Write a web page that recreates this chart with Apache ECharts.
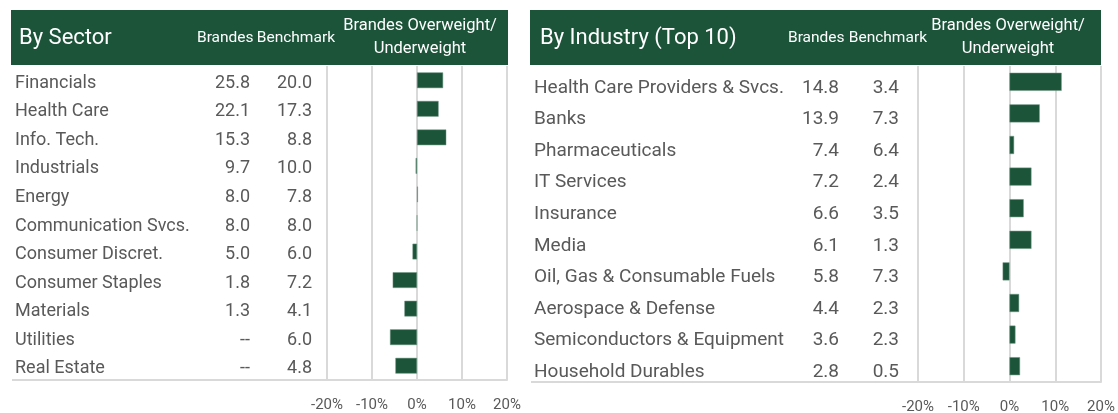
<!DOCTYPE html>
<html>
<head>
<meta charset="utf-8">
<script src="https://cdn.jsdelivr.net/npm/echarts@6/dist/echarts.min.js"></script>
<style>
  html, body { margin: 0; padding: 0; background: #fff; }
  #chart { width: 1118px; height: 413px; }
</style>
</head>
<body>
<div id="chart"></div>
<script>
var sectors = ['Financials', 'Health Care', 'Info. Tech.', 'Industrials', 'Energy', 'Communication Svcs.',
  'Consumer Discret.', 'Consumer Staples', 'Materials', 'Utilities', 'Real Estate'];
var sectorBrandes = [25.8, 22.1, 15.3, 9.7, 8.0, 8.0, 5.0, 1.8, 1.3, null, null];
var sectorBench = [20.0, 17.3, 8.8, 10.0, 7.8, 8.0, 6.0, 7.2, 4.1, 6.0, 4.8];
var sectorActive = [5.8, 4.8, 6.5, -0.3, 0.2, 0.0, -1.0, -5.4, -2.8, -6.0, -4.8];

var industries = ['Health Care Providers & Svcs.', 'Banks', 'Pharmaceuticals', 'IT Services', 'Insurance', 'Media',
  'Oil, Gas & Consumable Fuels', 'Aerospace & Defense', 'Semiconductors & Equipment', 'Household Durables'];
var indBrandes = [14.8, 13.9, 7.4, 7.2, 6.6, 6.1, 5.8, 4.4, 3.6, 2.8];
var indBench = [3.4, 7.3, 6.4, 2.4, 3.5, 1.3, 7.3, 2.3, 2.3, 0.5];
var indActive = [11.4, 6.6, 1.0, 4.8, 3.1, 4.8, -1.5, 2.1, 1.3, 2.3];

var xTicks = [-20, -10, 0, 10, 20];

var GREEN = '#1b5439';
var GREY = '#595959';
var LINE = '#d9d9d9';
var FONT = 'Roboto';

function fmt(v) { return v == null ? '--' : v.toFixed(1); }

var myChart = echarts.init(document.getElementById('chart'));

// one category axis per table column, all on the left of the bar grid
// (verticalAlign top + small lineHeight nudges the text a few px below the bar centre)
function colAxis(grid, data, align, margin, size, lh) {
  return {
    type: 'category', gridIndex: grid, position: 'left', offset: 0, inverse: true, data: data,
    axisLine: { show: false }, axisTick: { show: false }, splitLine: { show: false },
    axisLabel: {
      align: align, margin: margin, color: GREY, fontFamily: FONT, fontSize: size,
      verticalAlign: 'top', lineHeight: lh
    }
  };
}

function valAxis(grid) {
  return {
    type: 'value', gridIndex: grid, min: xTicks[0], max: xTicks[xTicks.length - 1], interval: 10,
    axisLine: { show: true, onZero: false, lineStyle: { color: LINE, width: 2 } },
    axisTick: { show: false },
    splitLine: { show: true, lineStyle: { color: LINE, width: 2 } },
    axisLabel: { formatter: '{value}%', color: GREY, fontFamily: FONT, fontSize: 15, margin: 18 }
  };
}

function headerText(x, y, txt, size, align) {
  return {
    type: 'text', x: x, y: y,
    style: { text: txt, fill: '#fff', fontFamily: FONT, fontSize: size, align: align || 'left', verticalAlign: 'middle' }
  };
}

var option = {
  animation: false,
  grid: [
    { left: 327, right: 611, top: 66, bottom: 33, outerBoundsMode: 'none', containLabel: false },
    { left: 918, right: 17, top: 66, bottom: 31, outerBoundsMode: 'none', containLabel: false }
  ],
  xAxis: [valAxis(0), valAxis(1)],
  yAxis: [
    colAxis(0, sectors, 'left', 312, 18, 6),
    colAxis(0, sectorBrandes.map(fmt), 'right', 77, 18, 6),
    colAxis(0, sectorBench.map(fmt), 'right', 15, 18, 6),
    colAxis(1, industries, 'left', 384, 19, 12),
    colAxis(1, indBrandes.map(fmt), 'right', 79, 19, 12),
    colAxis(1, indBench.map(fmt), 'right', 19, 19, 12)
  ],
  series: [
    {
      type: 'bar', xAxisIndex: 0, yAxisIndex: 0, data: sectorActive, barWidth: '55%',
      itemStyle: { color: GREEN, borderColor: '#6f9683', borderWidth: 0.5 }
    },
    {
      type: 'bar', xAxisIndex: 1, yAxisIndex: 3, data: indActive, barWidth: '57%',
      itemStyle: { color: GREEN, borderColor: '#6f9683', borderWidth: 0.5 }
    }
  ],
  graphic: [
    { type: 'rect', shape: { x: 11, y: 10, width: 497, height: 55 }, style: { fill: GREEN } },
    { type: 'rect', shape: { x: 530, y: 10, width: 571, height: 55 }, style: { fill: GREEN } },
    { type: 'line', shape: { x1: 12, y1: 380, x2: 327, y2: 380 }, style: { stroke: LINE, lineWidth: 2 } },
    { type: 'line', shape: { x1: 531, y1: 382, x2: 918, y2: 382 }, style: { stroke: LINE, lineWidth: 2 } },
    headerText(19, 38, 'By Sector', 22),
    headerText(197, 38, 'Brandes', 15.5),
    headerText(335, 38, 'Benchmark', 15.5, 'right'),
    headerText(420, 26, 'Brandes Overweight/', 16.5, 'center'),
    headerText(420, 49, 'Underweight', 16.5, 'center'),
    headerText(540, 38, 'By Industry (Top 10)', 22),
    headerText(788, 38, 'Brandes', 15.5),
    headerText(927, 38, 'Benchmark', 15.5, 'right'),
    headerText(1008, 26, 'Brandes Overweight/', 16.5, 'center'),
    headerText(1008, 49, 'Underweight', 16.5, 'center')
  ]
};
myChart.setOption(option);
</script>
</body>
</html>
